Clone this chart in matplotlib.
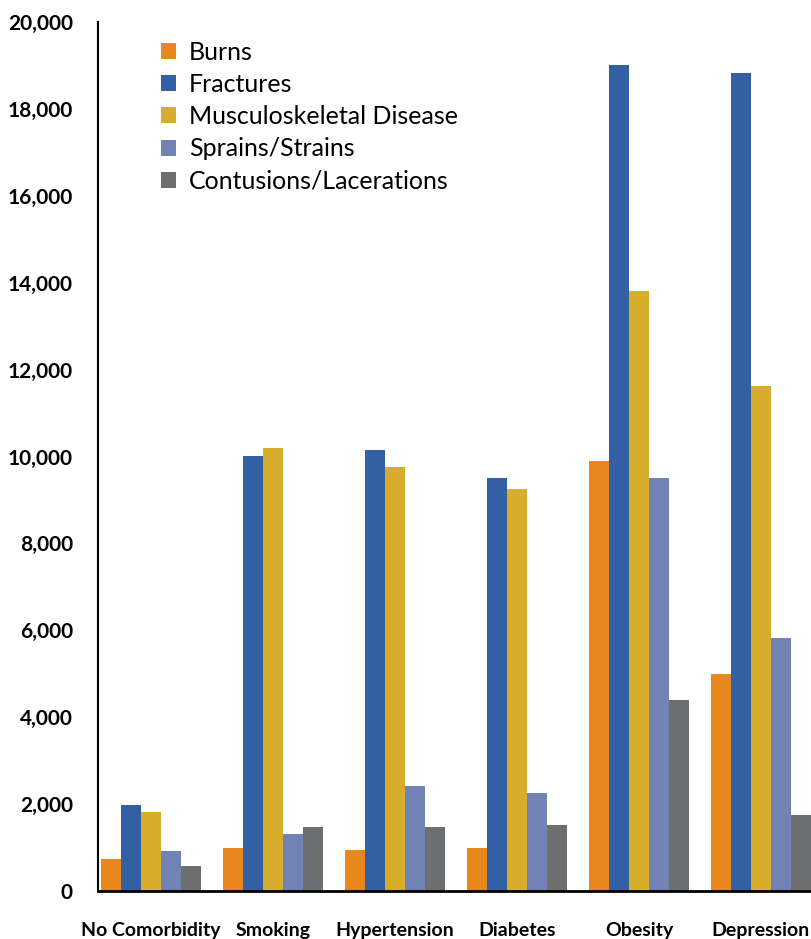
import matplotlib
import matplotlib.pyplot as plt
import numpy as np

matplotlib.use('Agg')
plt.rcParams['font.family'] = ['Lato', 'DejaVu Sans']

groups = ["No Comorbidity", "Smoking", "Hypertension", "Diabetes", "Obesity", "Depression"]
series = ["Burns", "Fractures", "Musculoskeletal Disease", "Sprains/Strains", "Contusions/Lacerations"]
colors = ["#E8871E", "#3360A3", "#D6AE2B", "#7282B5", "#6D6E70"]

burns = [740, 990, 945, 990, 9900, 5000]
fractures = [1980, 10000, 10150, 9500, 19000, 18830]
msk = [1820, 10200, 9760, 9250, 13800, 11620]
sprains = [920, 1310, 2420, 2255, 9500, 5820]
contusions = [575, 1470, 1470, 1520, 4400, 1750]
values = [burns, fractures, msk, sprains, contusions]

yticks = np.arange(0, 20001, 2000)

fig = plt.figure(figsize=(8.11, 9.39), dpi=100)
ax = fig.add_axes([0.1208, 0.0511, 0.8792, 0.9255])

x = np.arange(len(groups))
w = 0.165
for i, (name, vals, c) in enumerate(zip(series, values, colors)):
    ax.bar(x + (i - 2) * w, vals, width=w, color=c, label=name, linewidth=0)

ax.set_xlim(-0.435, 5.41)
ax.set_ylim(0, 20000)
ax.set_yticks(yticks)
ax.set_yticklabels([f"{v:,}" for v in yticks], fontsize=15, fontweight='bold')
ax.set_xticks(x)
ax.set_xticklabels(groups, fontsize=14, fontweight='bold')
ax.tick_params(axis='y', length=0, pad=18)
ax.tick_params(axis='x', length=0, pad=22)

for s in ['top', 'right']:
    ax.spines[s].set_visible(False)
ax.spines['left'].set_linewidth(1.5)
ax.spines['bottom'].set_linewidth(2)

leg = ax.legend(loc='upper left', bbox_to_anchor=(0.075, 0.99), frameon=False,
                fontsize=18, handlelength=0.6, handleheight=0.6,
                handletextpad=0.5, labelspacing=0.37, borderaxespad=0)

fig.savefig("out.png", dpi=100)
